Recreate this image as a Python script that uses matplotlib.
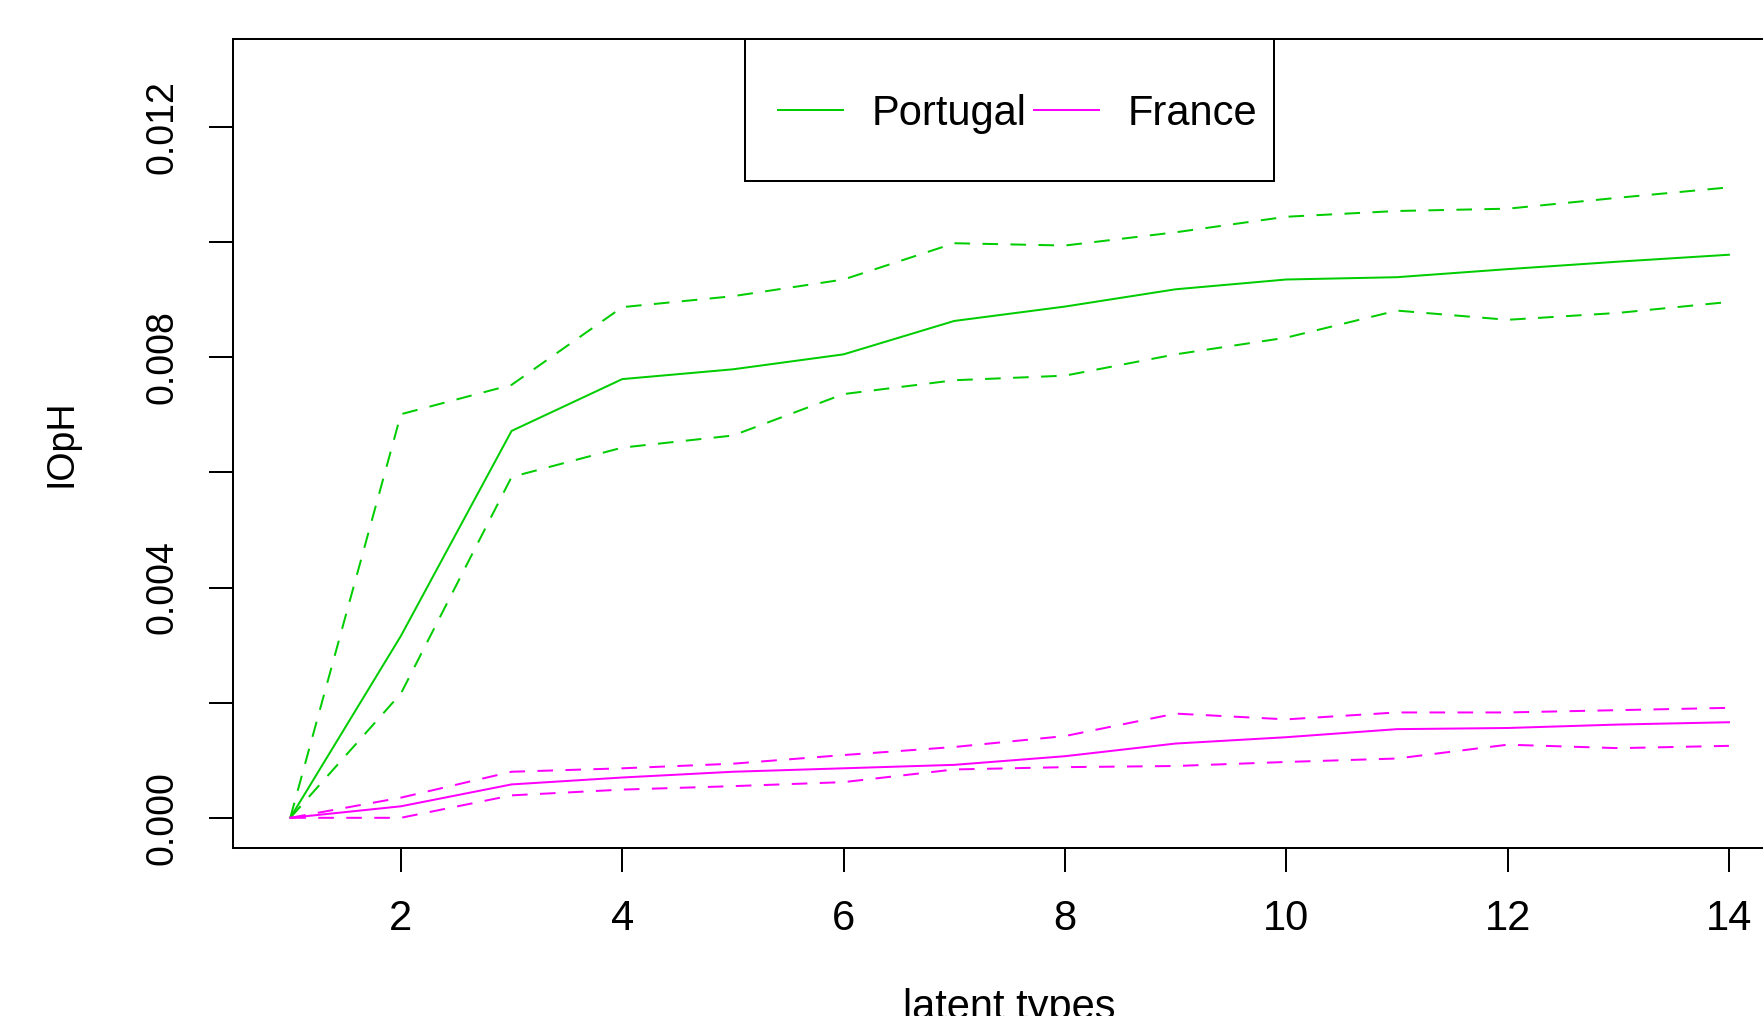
import matplotlib.pyplot as plt
from matplotlib.patches import Rectangle
from matplotlib.ticker import FuncFormatter

plt.rcParams['font.family'] = ['Liberation Sans', 'DejaVu Sans']

latent_types = list(range(1, 15))

# Portugal: estimate with lower / upper bounds
portugal = [0.0, 0.00316, 0.00672, 0.00762, 0.00779, 0.00805, 0.00863,
            0.00888, 0.00918, 0.00935, 0.00939, 0.00953, 0.00966, 0.00978]
portugal_upper = [0.0, 0.00701, 0.00752, 0.00887, 0.00906, 0.00935, 0.00998,
                  0.00994, 0.01017, 0.01044, 0.01054, 0.01058, 0.01077, 0.01095]
portugal_lower = [0.0, 0.00216, 0.00592, 0.00643, 0.00664, 0.00736, 0.00760,
                  0.00768, 0.00805, 0.00834, 0.00881, 0.00865, 0.00877, 0.00896]

# France
france = [0.0, 0.00020, 0.00058, 0.00070, 0.00080, 0.00086, 0.00092,
          0.00107, 0.00129, 0.00140, 0.00154, 0.00156, 0.00162, 0.00166]
france_upper = [0.0, 0.00035, 0.00080, 0.00086, 0.00094, 0.00109, 0.00123,
                0.00142, 0.00181, 0.00171, 0.00183, 0.00183, 0.00187, 0.00191]
france_lower = [0.0, 0.0, 0.00039, 0.00049, 0.00055, 0.00062, 0.00084,
                0.00088, 0.00090, 0.00097, 0.00103, 0.00127, 0.00121, 0.00125]

x_ticks = [2, 4, 6, 8, 10, 12, 14]
y_ticks = [0.000, 0.002, 0.004, 0.006, 0.008, 0.010, 0.012]
y_labeled = [0.000, 0.004, 0.008, 0.012]

green = "#00CD00"
magenta = "#FF00FF"
lw = 1.44
dash = (0, (7.8, 6.2))
fs = 30      # horizontal text
fs_v = 27    # rotated text (the original image is squeezed vertically)

fig = plt.figure(figsize=(17.63, 10.16), dpi=100)
ax = fig.add_axes([0.1320, 0.1656, 1.0133 - 0.1320, 0.9612 - 0.1656])

ax.plot(latent_types, portugal, color=green, lw=lw, label="Portugal")
ax.plot(latent_types, portugal_upper, color=green, lw=lw, linestyle=dash, dash_capstyle="butt")
ax.plot(latent_types, portugal_lower, color=green, lw=lw, linestyle=dash, dash_capstyle="butt")
ax.plot(latent_types, france, color=magenta, lw=lw, label="France")
ax.plot(latent_types, france_upper, color=magenta, lw=lw, linestyle=dash, dash_capstyle="butt")
ax.plot(latent_types, france_lower, color=magenta, lw=lw, linestyle=dash, dash_capstyle="butt")

ax.set_xlim(0.48, 14.52)
ax.set_ylim(-0.00052, 0.01352)

ax.set_xticks(x_ticks)
ax.set_yticks(y_ticks)
ax.yaxis.set_major_formatter(FuncFormatter(
    lambda v, pos: f"{v:.3f}" if any(abs(v - t) < 1e-9 for t in y_labeled) else ""))
ax.tick_params(axis="both", direction="out", length=17.3, width=lw, colors="black")
ax.tick_params(axis="x", pad=19.4, labelsize=fs)
ax.tick_params(axis="y", pad=20.0, labelsize=fs_v)
for lab in ax.get_yticklabels():
    lab.set_rotation(90)
    lab.set_va("center")

for s in ax.spines.values():
    s.set_linewidth(lw)
    s.set_color("black")

ax.set_xlabel("latent types", fontsize=fs)
ax.xaxis.set_label_coords(0.5, -0.1734)
ax.set_ylabel("IOpH", fontsize=fs_v)
ax.yaxis.set_label_coords(-0.0989, 0.5)

# legend (R style box touching the top of the plot region)
ax.legend(loc="center", bbox_to_anchor=(0.5054, 0.9077), ncol=2, frameon=False,
          fontsize=fs, borderpad=0, handlelength=1.55, handletextpad=0.70,
          columnspacing=0.18)
ax.add_patch(Rectangle((0.3296, 0.8248), 0.6700 - 0.3296, 1.0 - 0.8248,
                       transform=ax.transAxes, fill=False, edgecolor="black",
                       lw=lw, clip_on=False, zorder=5))

fig.savefig("out.png", dpi=100)
